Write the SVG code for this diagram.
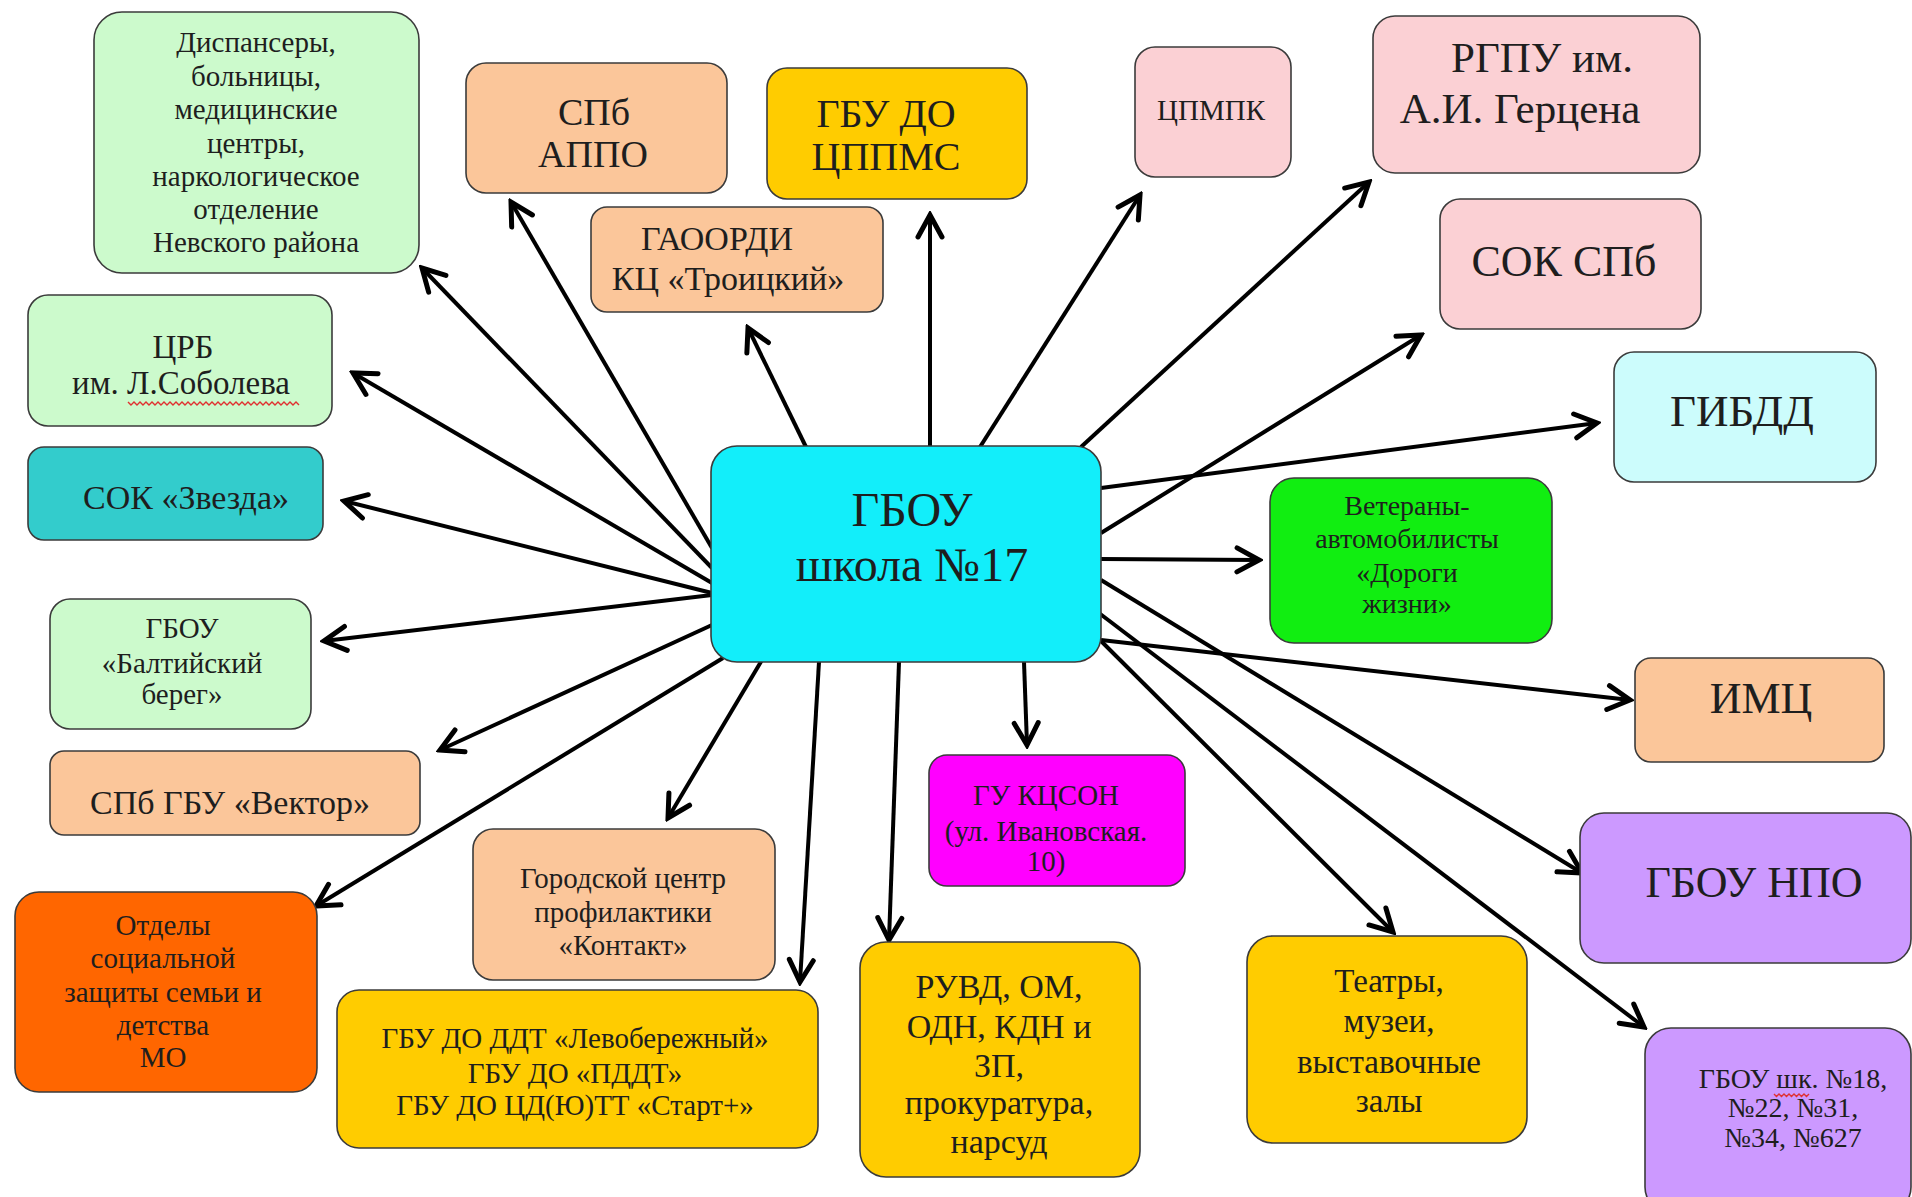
<svg xmlns="http://www.w3.org/2000/svg" width="1912" height="1197" viewBox="0 0 1912 1197">
<style>
.n{stroke:#3b3b3b;stroke-width:1.6}
.t{font-family:"Liberation Serif","Times New Roman",serif;fill:#1e1e1e;text-anchor:middle}
.c{stroke:#000;stroke-width:4;fill:none;marker-end:url(#ah)}
.w{stroke:#e03030;stroke-width:1.4;fill:none}
</style>
<defs>
<marker id="ah" viewBox="0 0 30 30" refX="26" refY="15" markerWidth="30" markerHeight="30" markerUnits="userSpaceOnUse" orient="auto">
<path d="M4 3 L26 15 L4 27" fill="none" stroke="#000" stroke-width="5" stroke-linecap="round"/>
</marker>
</defs>
<rect width="1912" height="1197" fill="#fff"/>

<g id="connectors">
<line class="c" x1="712" y1="568" x2="422" y2="268"/>
<line class="c" x1="712" y1="583" x2="353" y2="373"/>
<line class="c" x1="712" y1="593" x2="344" y2="501"/>
<line class="c" x1="712" y1="595" x2="324" y2="641"/>
<line class="c" x1="712" y1="625" x2="440" y2="750"/>
<line class="c" x1="723" y1="658" x2="316" y2="906"/>
<line class="c" x1="762" y1="660" x2="668" y2="818"/>
<line class="c" x1="819" y1="662" x2="800" y2="982"/>
<line class="c" x1="899" y1="662" x2="889" y2="940"/>
<line class="c" x1="1024" y1="662" x2="1027" y2="745"/>
<line class="c" x1="1098" y1="638" x2="1393" y2="932"/>
<line class="c" x1="1095" y1="610" x2="1644" y2="1027"/>
<line class="c" x1="1101" y1="580" x2="1582" y2="873"/>
<line class="c" x1="1101" y1="640" x2="1630" y2="700"/>
<line class="c" x1="1101" y1="559" x2="1259" y2="560"/>
<line class="c" x1="1101" y1="533" x2="1421" y2="335"/>
<line class="c" x1="1101" y1="488" x2="1597" y2="423"/>
<line class="c" x1="1081" y1="447" x2="1369" y2="182"/>
<line class="c" x1="980" y1="447" x2="1140" y2="195"/>
<line class="c" x1="930" y1="447" x2="930" y2="215"/>
<line class="c" x1="806" y1="447" x2="748" y2="328"/>
<line class="c" x1="712" y1="548" x2="511" y2="202"/>
</g>

<g id="n-center">
<rect class="n" x="711" y="446" width="390" height="216" rx="26" fill="#12eefa"/>
<text class="t" font-size="48" x="912" y="526" fill="#1a1a2a">ГБОУ</text>
<text class="t" font-size="48" x="912" y="581" fill="#1a1a2a">школа №17</text>
</g>

<g id="n-disp">
<rect class="n" x="94" y="12" width="325" height="261" rx="28" fill="#ccfacc"/>
<text class="t" font-size="29" x="256" y="52">Диспансеры,</text>
<text class="t" font-size="29" x="256" y="86">больницы,</text>
<text class="t" font-size="29" x="256" y="119">медицинские</text>
<text class="t" font-size="29" x="256" y="153">центры,</text>
<text class="t" font-size="29" x="256" y="186">наркологическое</text>
<text class="t" font-size="29" x="256" y="219">отделение</text>
<text class="t" font-size="29" x="256" y="252">Невского района</text>
</g>

<g id="n-crb">
<rect class="n" x="28" y="295" width="304" height="131" rx="20" fill="#ccfacc"/>
<text class="t" font-size="33" x="183" y="358">ЦРБ</text>
<text class="t" font-size="33" x="181" y="394">им. Л.Соболева</text>
<path class="w" d="M128 402 l3 3 l3 -3 l3 3 l3 -3 l3 3 l3 -3 l3 3 l3 -3 l3 3 l3 -3 l3 3 l3 -3 l3 3 l3 -3 l3 3 l3 -3 l3 3 l3 -3 l3 3 l3 -3 l3 3 l3 -3 l3 3 l3 -3 l3 3 l3 -3 l3 3 l3 -3 l3 3 l3 -3 l3 3 l3 -3 l3 3 l3 -3 l3 3 l3 -3 l3 3 l3 -3 l3 3 l3 -3 l3 3 l3 -3 l3 3 l3 -3 l3 3 l3 -3 l3 3 l3 -3 l3 3 l3 -3 l3 3 l3 -3 l3 3 l3 -3 l3 3 l3 -3 l3 3"/>
</g>

<g id="n-zvezda">
<rect class="n" x="28" y="447" width="295" height="93" rx="16" fill="#33cccc"/>
<text class="t" font-size="34" x="186" y="509">СОК «Звезда»</text>
</g>

<g id="n-balt">
<rect class="n" x="50" y="599" width="261" height="130" rx="20" fill="#ccfacc"/>
<text class="t" font-size="29" x="182" y="638">ГБОУ</text>
<text class="t" font-size="29" x="182" y="673">«Балтийский</text>
<text class="t" font-size="29" x="182" y="704">берег»</text>
</g>

<g id="n-vektor">
<rect class="n" x="50" y="751" width="370" height="84" rx="14" fill="#fbc69a"/>
<text class="t" font-size="34" x="230" y="814">СПб ГБУ «Вектор»</text>
</g>

<g id="n-otdely">
<rect class="n" x="15" y="892" width="302" height="200" rx="24" fill="#ff6600"/>
<text class="t" font-size="29" x="163" y="935">Отделы</text>
<text class="t" font-size="29" x="163" y="968">социальной</text>
<text class="t" font-size="29" x="163" y="1002">защиты семьи и</text>
<text class="t" font-size="29" x="163" y="1035">детства</text>
<text class="t" font-size="29" x="163" y="1067">МО</text>
</g>

<g id="n-kontakt">
<rect class="n" x="473" y="829" width="302" height="151" rx="20" fill="#fbc69a"/>
<text class="t" font-size="29" x="623" y="888">Городской центр</text>
<text class="t" font-size="29" x="623" y="922">профилактики</text>
<text class="t" font-size="29" x="623" y="955">«Контакт»</text>
</g>

<g id="n-ddt">
<rect class="n" x="337" y="990" width="481" height="158" rx="22" fill="#ffcc00"/>
<text class="t" font-size="29" x="575" y="1048">ГБУ ДО ДДТ «Левобережный»</text>
<text class="t" font-size="29" x="575" y="1083">ГБУ ДО «ПДДТ»</text>
<text class="t" font-size="29" x="575" y="1115">ГБУ ДО ЦД(Ю)ТТ «Старт+»</text>
</g>

<g id="n-kcson">
<rect class="n" x="929" y="755" width="256" height="131" rx="18" fill="#ff00ff"/>
<text class="t" font-size="29" x="1046" y="805" fill="#402040">ГУ КЦСОН</text>
<text class="t" font-size="29" x="1046" y="841" fill="#402040">(ул. Ивановская.</text>
<text class="t" font-size="29" x="1046" y="871" fill="#402040">10)</text>
</g>

<g id="n-ruvd">
<rect class="n" x="860" y="942" width="280" height="235" rx="26" fill="#ffcc00"/>
<text class="t" font-size="34" x="999" y="998">РУВД, ОМ,</text>
<text class="t" font-size="34" x="999" y="1038">ОДН, КДН и</text>
<text class="t" font-size="34" x="999" y="1077">ЗП,</text>
<text class="t" font-size="34" x="999" y="1114">прокуратура,</text>
<text class="t" font-size="34" x="999" y="1153">нарсуд</text>
</g>

<g id="n-teatry">
<rect class="n" x="1247" y="936" width="280" height="207" rx="26" fill="#ffcc00"/>
<text class="t" font-size="33" x="1389" y="992">Театры,</text>
<text class="t" font-size="33" x="1389" y="1032">музеи,</text>
<text class="t" font-size="33" x="1389" y="1073">выставочные</text>
<text class="t" font-size="33" x="1389" y="1112">залы</text>
</g>

<g id="n-npo">
<rect class="n" x="1580" y="813" width="331" height="150" rx="24" fill="#cc99ff"/>
<text class="t" font-size="44" x="1754" y="897">ГБОУ НПО</text>
</g>

<g id="n-shk">
<rect class="n" x="1645" y="1028" width="266" height="185" rx="26" fill="#cc99ff"/>
<text class="t" font-size="28" x="1793" y="1088">ГБОУ шк. №18,</text>
<text class="t" font-size="28" x="1793" y="1117">№22, №31,</text>
<text class="t" font-size="28" x="1793" y="1147">№34, №627</text>
<path class="w" d="M1774 1094 l2.5 2.5 l2.5 -2.5 l2.5 2.5 l2.5 -2.5 l2.5 2.5 l2.5 -2.5 l2.5 2.5 l2.5 -2.5 l2.5 2.5 l2.5 -2.5 l2.5 2.5 l2.5 -2.5 l2.5 2.5 l2.5 -2.5"/>
</g>

<g id="n-imc">
<rect class="n" x="1635" y="658" width="249" height="104" rx="16" fill="#fbc69a"/>
<text class="t" font-size="44" x="1761" y="713">ИМЦ</text>
</g>

<g id="n-vet">
<rect class="n" x="1270" y="478" width="282" height="165" rx="24" fill="#11ee11"/>
<text class="t" font-size="28" x="1407" y="515" fill="#1c3a1c">Ветераны-</text>
<text class="t" font-size="28" x="1407" y="548" fill="#1c3a1c">автомобилисты</text>
<text class="t" font-size="28" x="1407" y="582" fill="#1c3a1c">«Дороги</text>
<text class="t" font-size="28" x="1407" y="613" fill="#1c3a1c">жизни»</text>
</g>

<g id="n-gibdd">
<rect class="n" x="1614" y="352" width="262" height="130" rx="20" fill="#ccfcfc"/>
<text class="t" font-size="45" x="1742" y="426">ГИБДД</text>
</g>

<g id="n-sokspb">
<rect class="n" x="1440" y="199" width="261" height="130" rx="20" fill="#fbd0d4"/>
<text class="t" font-size="44" x="1564" y="276">СОК СПб</text>
</g>

<g id="n-rgpu">
<rect class="n" x="1373" y="16" width="327" height="157" rx="22" fill="#fbd0d4"/>
<text class="t" font-size="43" x="1542" y="72">РГПУ им.</text>
<text class="t" font-size="43" x="1520" y="123">А.И. Герцена</text>
</g>

<g id="n-cpmpk">
<rect class="n" x="1135" y="47" width="156" height="130" rx="20" fill="#fbd0d4"/>
<text class="t" font-size="29" x="1211" y="120">ЦПМПК</text>
</g>

<g id="n-cppms">
<rect class="n" x="767" y="68" width="260" height="131" rx="20" fill="#ffcc00"/>
<text class="t" font-size="40" x="886" y="127">ГБУ ДО</text>
<text class="t" font-size="40" x="886" y="170">ЦППМС</text>
</g>

<g id="n-appo">
<rect class="n" x="466" y="63" width="261" height="130" rx="20" fill="#fbc69a"/>
<text class="t" font-size="38" x="594" y="125">СПб</text>
<text class="t" font-size="38" x="593" y="167">АППО</text>
</g>

<g id="n-gaoordi">
<rect class="n" x="591" y="207" width="292" height="105" rx="16" fill="#fbc69a"/>
<text class="t" font-size="34" x="717" y="250">ГАООРДИ</text>
<text class="t" font-size="34" x="728" y="290">КЦ «Троицкий»</text>
</g>
</svg>
